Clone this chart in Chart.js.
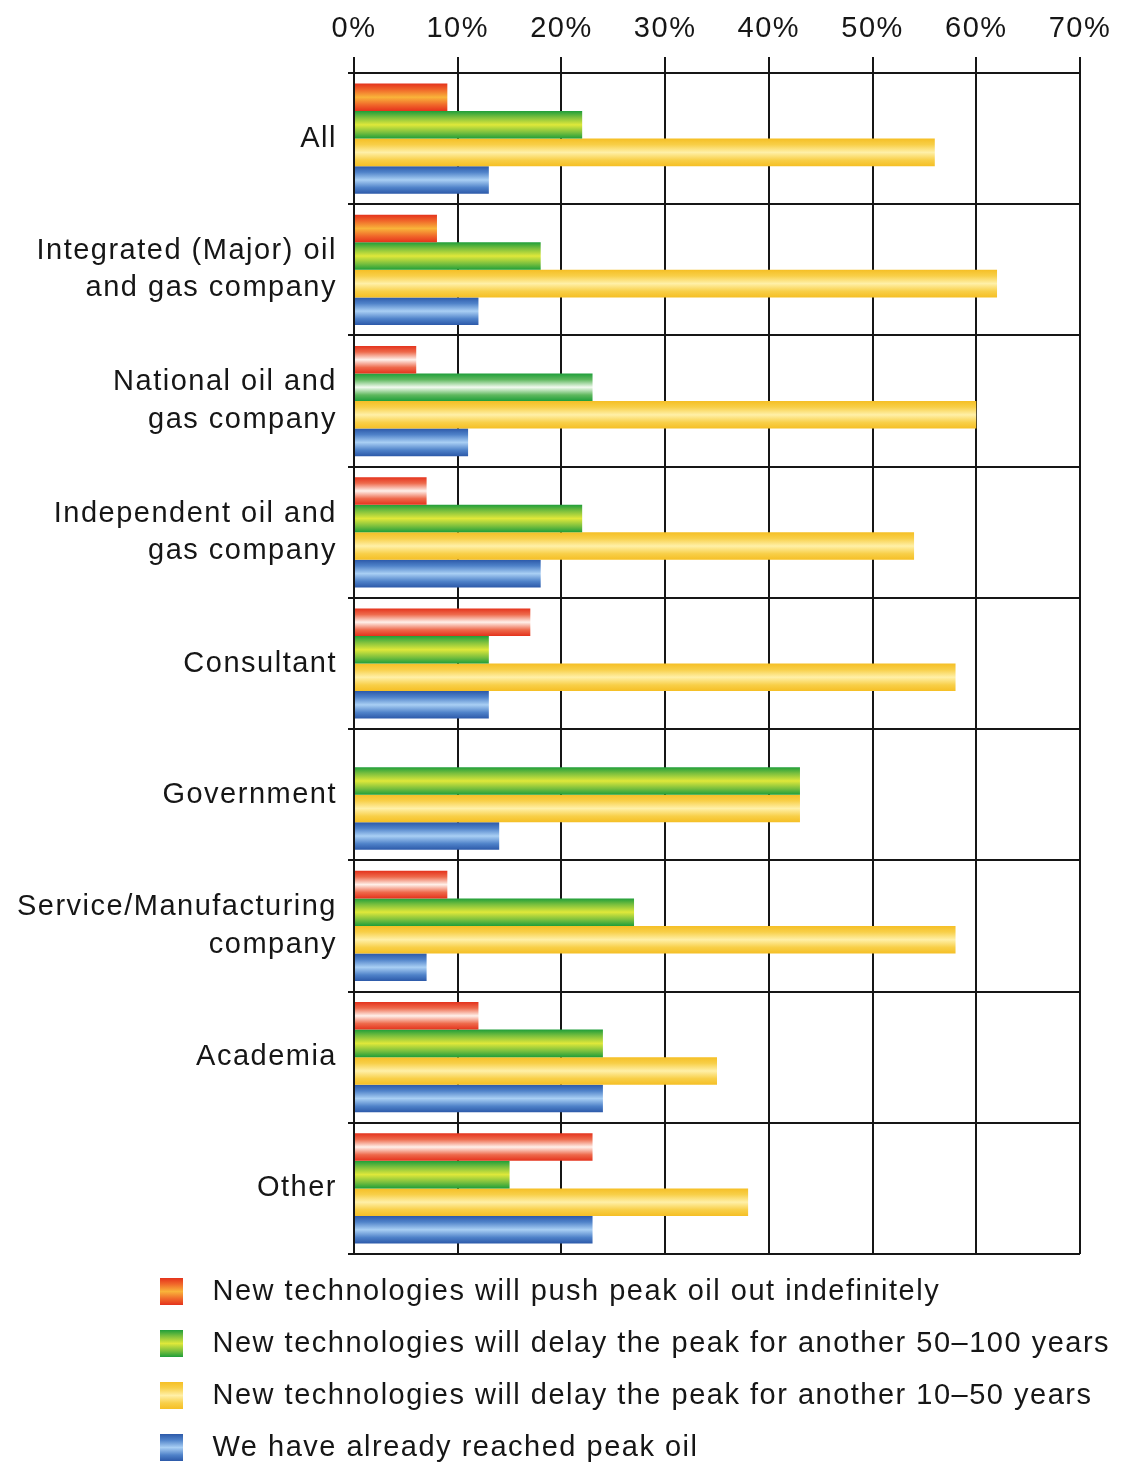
<!DOCTYPE html>
<html>
<head>
<meta charset="utf-8">
<title>Peak oil survey</title>
<script src="https://cdn.jsdelivr.net/npm/chart.js@4.4.1/dist/chart.umd.min.js"></script>
<style>
  html, body { margin: 0; padding: 0; background: #ffffff; overflow: hidden; }
  #wrap { width: 1126px; height: 1463px; overflow: hidden; }
  canvas { display: block; }
</style>
</head>
<body>
<div id="wrap"><canvas id="chart" width="1126" height="1472" style="width:1126px;height:1472px"></canvas></div>
<script>
// Respondent groups (multi-line labels are arrays)
const categories = [
  'All',
  ['Integrated (Major) oil', 'and gas company'],
  ['National oil and', 'gas company'],
  ['Independent oil and', 'gas company'],
  'Consultant',
  'Government',
  ['Service/Manufacturing', 'company'],
  'Academia',
  'Other'
];

const seriesNames = [
  'New technologies will push peak oil out indefinitely',
  'New technologies will delay the peak for another 50\u2013100 years',
  'New technologies will delay the peak for another 10\u201350 years',
  'We have already reached peak oil'
];

// Share of respondents, percent
const pushIndefinitely = [9, 8, 6, 7, 17, 0, 9, 12, 23];
const delay50to100     = [22, 18, 23, 22, 13, 43, 27, 24, 15];
const delay10to50      = [56, 62, 60, 54, 58, 43, 58, 35, 38];
const alreadyPeaked    = [13, 12, 11, 18, 13, 14, 7, 24, 23];

const tickValues = [0, 10, 20, 30, 40, 50, 60, 70];

// Glossy stripe colours: edge, shoulder, highlight (top to bottom, mirrored)
const redWarm  = ['#e4321c', '#f0662a', '#f9b43a'];
const redPale  = ['#e4321c', '#ee6a4c', '#fff0ea'];
const greenGlow = ['#1f9e3a', '#79bf3e', '#dfe83a'];
const greenPale = ['#1f9e3a', '#5fb85e', '#f2faef'];
const yellowGlow = ['#f5bf25', '#f8cf48', '#fff0a8'];
const blueGlow = ['#2c59a9', '#4f82c9', '#a9cff4'];

// Highlight variant per group for the red and green series
const redStyleByGroup   = [redWarm, redWarm, redPale, redPale, redPale, redPale, redPale, redPale, redPale];
const greenStyleByGroup = [greenGlow, greenGlow, greenPale, greenGlow, greenGlow, greenGlow, greenGlow, greenGlow, greenGlow];

const GROUP_SHARE = 0.84;
const FONT = '"Liberation Sans", Arial, Helvetica, sans-serif';
const INK = '#161616';

function addStops(grad, s) {
  grad.addColorStop(0.0, s[0]);
  grad.addColorStop(0.22, s[1]);
  grad.addColorStop(0.5, s[2]);
  grad.addColorStop(0.78, s[1]);
  grad.addColorStop(1.0, s[0]);
  return grad;
}

// Builds a vertical gloss for each bar from the category scale geometry
function glossFill(styleFor) {
  return (c) => {
    const chart = c.chart;
    const y = chart.scales && chart.scales.y;
    const s = styleFor(c.dataIndex || 0);
    if (!chart.chartArea || !y || c.dataIndex === undefined) return s[0];
    const band = (y.bottom - y.top) / categories.length;
    const group = band * GROUP_SHARE;
    const h = group / seriesNames.length;
    const top = y.getPixelForValue(c.dataIndex) - group / 2 + c.datasetIndex * h;
    return addStops(chart.ctx.createLinearGradient(0, top, 0, top + h), s);
  };
}

function swatch(s) {
  const cv = document.createElement('canvas');
  cv.width = 23; cv.height = 27;
  const g = cv.getContext('2d');
  g.fillStyle = addStops(g.createLinearGradient(0, 0, 0, 27), s);
  g.fillRect(0, 0, 23, 27);
  return cv;
}
const swatches = [swatch(redWarm), swatch(greenGlow), swatch(yellowGlow), swatch(blueGlow)];

// Slightly open tracking on all canvas text
const tracking = {
  id: 'tracking',
  beforeUpdate(chart) { chart.ctx.letterSpacing = '1.5px'; },
  beforeDraw(chart) { chart.ctx.letterSpacing = '1.5px'; }
};

// Left-align the legend column under the plot and let it use the full width
const legendColumn = {
  id: 'legendColumn',
  afterLayout(chart) {
    const lg = chart.legend;
    if (!lg) return;
    lg.left = 122;
    lg.right = chart.width;
    lg.width = lg.right - lg.left;
  }
};

Chart.defaults.font.family = FONT;
Chart.defaults.font.size = 29;
Chart.defaults.color = INK;

new Chart(document.getElementById('chart'), {
  type: 'bar',
  data: {
    labels: categories,
    datasets: [
      { label: seriesNames[0], data: pushIndefinitely, backgroundColor: glossFill(i => redStyleByGroup[i]) },
      { label: seriesNames[1], data: delay50to100,     backgroundColor: glossFill(i => greenStyleByGroup[i]) },
      { label: seriesNames[2], data: delay10to50,      backgroundColor: glossFill(() => yellowGlow) },
      { label: seriesNames[3], data: alreadyPeaked,    backgroundColor: glossFill(() => blueGlow) }
    ]
  },
  options: {
    indexAxis: 'y',
    responsive: false,
    animation: false,
    devicePixelRatio: 1,
    datasets: {
      bar: { barPercentage: 1.0, categoryPercentage: GROUP_SHARE, borderWidth: 0 }
    },
    layout: { padding: { top: 0, left: 0, right: 46, bottom: 0 } },
    scales: {
      x: {
        position: 'top',
        min: 0,
        max: 70,
        afterBuildTicks(scale) { scale.ticks = tickValues.map(v => ({ value: v })); },
        afterFit(scale) { scale.height = 73; },
        grid: { color: INK, lineWidth: 2, tickLength: 16, drawTicks: true },
        border: { color: INK, width: 2 },
        ticks: {
          padding: 11,
          color: INK,
          font: { size: 29, lineHeight: 1.2 },
          maxRotation: 0,
          callback: v => v + '%'
        }
      },
      y: {
        offset: true,
        afterFit(scale) { scale.width = 354; },
        grid: { color: INK, lineWidth: 2, tickLength: 6, offset: true },
        border: { color: INK, width: 2 },
        ticks: {
          padding: 11,
          color: INK,
          autoSkip: false,
          font: { size: 29, lineHeight: 1.28 }
        }
      }
    },
    plugins: {
      tooltip: { enabled: false },
      legend: {
        position: 'bottom',
        align: 'start',
        labels: {
          usePointStyle: true,
          pointStyleWidth: 53,
          padding: 23,
          color: INK,
          font: { size: 29 },
          generateLabels(chart) {
            const items = Chart.defaults.plugins.legend.labels.generateLabels(chart);
            items.forEach((it, i) => { it.pointStyle = swatches[i]; it.fontColor = INK; it.lineWidth = 0; });
            return items;
          }
        }
      }
    }
  },
  plugins: [tracking, legendColumn]
});
</script>
</body>
</html>
